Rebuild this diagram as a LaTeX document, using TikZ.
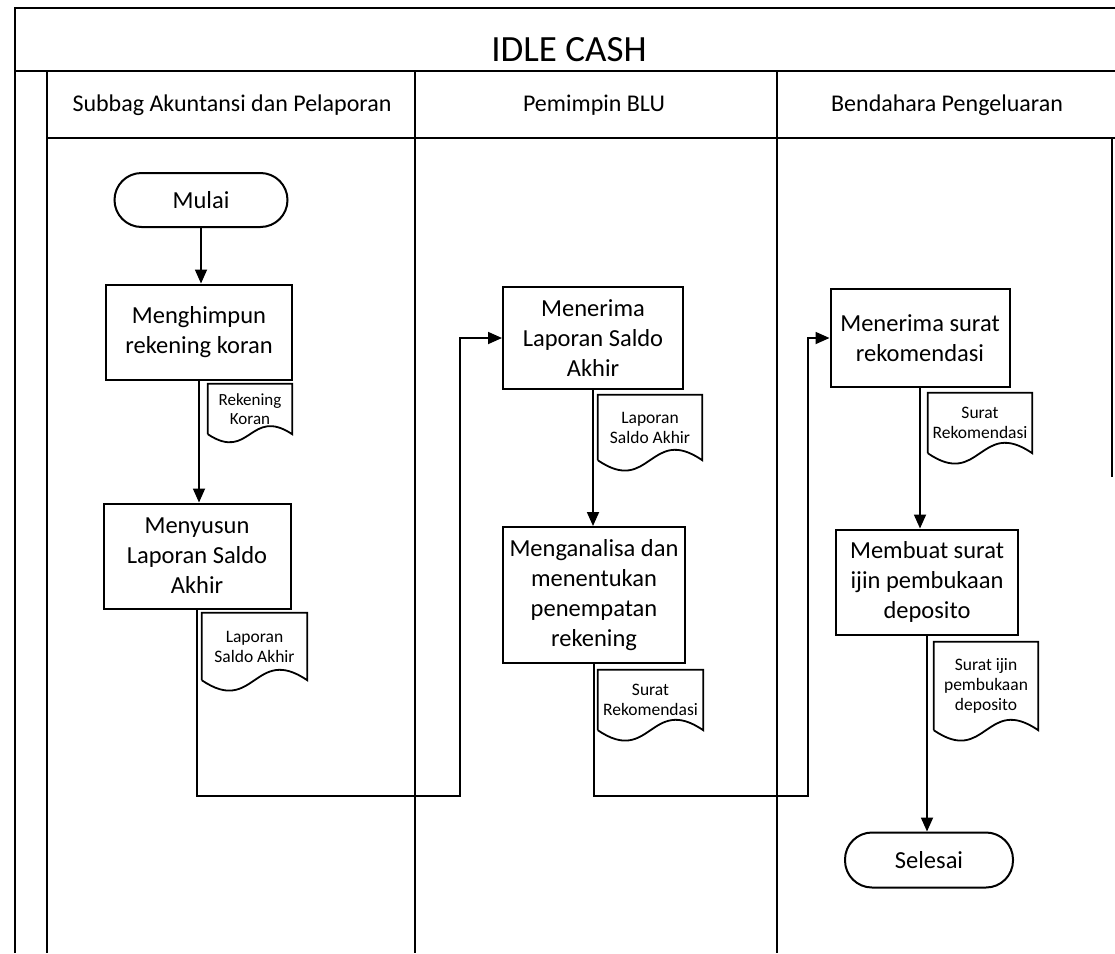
\documentclass[tikz,border=0pt]{standalone}
\usepackage{fontspec}
\setmainfont{Carlito}
\usetikzlibrary{arrows.meta,calc}

\tikzset{
  frame/.style={line width=1.8pt},
  lane/.style={line width=1.6pt},
  proc/.style={draw, line width=2pt, align=center, inner sep=2pt,
    font=\fontsize{24.5}{30}\selectfont},
  term/.style={draw, line width=2pt, rounded corners=27pt, align=center,
    font=\fontsize{24.5}{30}\selectfont},
  docbox/.style={inner sep=0pt, align=center, font=\fontsize{17.5}{20}\selectfont},
  docline/.style={line width=1.8pt},
  flow/.style={line width=1.8pt},
  arr/.style={flow, -{Triangle[length=14pt,width=12pt]}},
  head/.style={font=\fontsize{24}{28}\selectfont, anchor=base},
}

% document symbol: straight top and sides, wavy bottom (#1 = wave depth of the controls)
\newcommand{\docoutline}[2][36]{%
  \draw[docline] (#2.south west) -- (#2.north west) -- (#2.north east) -- (#2.south east)
    .. controls ($(#2.south)+(0,-#1)$) and ($(#2.south)+(0,#1)$) .. (#2.south west);}

\begin{document}
\begin{tikzpicture}[x=1pt, y=-1pt]
\useasboundingbox (0,0) rectangle (1115,953);

% pool and lanes
\draw[frame] (15,953) -- (15,8) -- (1115,8);
\draw[frame] (15,71) -- (1115,71);
\draw[frame] (47,138) -- (1115,138);
\draw[lane] (47,71) -- (47,953);
\draw[lane] (415,71) -- (415,953);
\draw[lane] (777,71) -- (777,953);
\draw[lane] (1112,137) -- (1112,477);

\node[font=\fontsize{37}{40}\selectfont] (title) at (569,50) {IDLE CASH};
\node[head] (h1) at (232,111) {Subbag Akuntansi dan Pelaporan};
\node[head] (h2) at (594,111) {Pemimpin BLU};
\node[head] (h3) at (947,111) {Bendahara Pengeluaran};

% lane 1
\node[term, minimum width=173pt, minimum height=54pt] (t1) at (201,200) {Mulai};
\node[proc, minimum width=186pt, minimum height=95pt] (p1) at (199,332) {Menghimpun\\rekening koran};
\node[docbox, minimum width=84pt, minimum height=50pt,
      font=\fontsize{17}{19}\selectfont] (d1) at (250,409) {Rekening\\Koran};
\docoutline[28]{d1}
\node[proc, minimum width=187pt, minimum height=105pt] (p2) at (197,556) {Menyusun\\Laporan Saldo\\Akhir};
\node[docbox, minimum width=105pt, minimum height=67pt] (d2) at (254.5,646.5) {Laporan\\Saldo Akhir};
\docoutline{d2}

% lane 2
\node[proc, minimum width=180pt, minimum height=102pt] (p3) at (593,338) {Menerima\\Laporan Saldo\\Akhir};
\node[docbox, minimum width=104pt, minimum height=65pt] (d3) at (650,427.5) {Laporan\\Saldo Akhir};
\docoutline{d3}
\node[proc, minimum width=182pt, minimum height=136pt] (p4) at (594,595) {Menganalisa dan\\menentukan\\penempatan\\rekening};
\node[docbox, minimum width=105pt, minimum height=60pt] (d4) at (650.5,700) {Surat\\Rekomendasi};
\docoutline{d4}

% lane 3
\node[proc, minimum width=179pt, minimum height=98pt] (p5) at (920,338) {Menerima surat\\rekomendasi};
\node[docbox, minimum width=104pt, minimum height=60pt] (d5) at (980,423) {Surat\\Rekomendasi};
\docoutline{d5}
\node[proc, minimum width=182pt, minimum height=105pt] (p6) at (927,582) {Membuat surat\\ijin pembukaan\\deposito};
\node[docbox, minimum width=104pt, minimum height=88pt] (d6) at (986,686) {Surat ijin\\pembukaan\\deposito};
\docoutline{d6}
\node[term, minimum width=168pt, minimum height=55pt] (t2) at (929,860) {Selesai};

% connectors
\coordinate (k1) at (460,796);
\coordinate (k2) at (808,796);
\draw[arr] (t1.south) -- (t1.south |- p1.north);
\draw[arr] (p1.south) -- (p1.south |- p2.north);
\draw[arr] (p2.south) |- (k1) |- (p3.west);
\draw[arr] (p3.south) -- (p3.south |- p4.north);
\draw[arr] (p4.south) |- (k2) |- (p5.west);
\draw[arr] (p5.south) -- (p5.south |- p6.north);
\draw[arr] (p6.south) -- (p6.south |- t2.north);
\end{tikzpicture}
\end{document}
